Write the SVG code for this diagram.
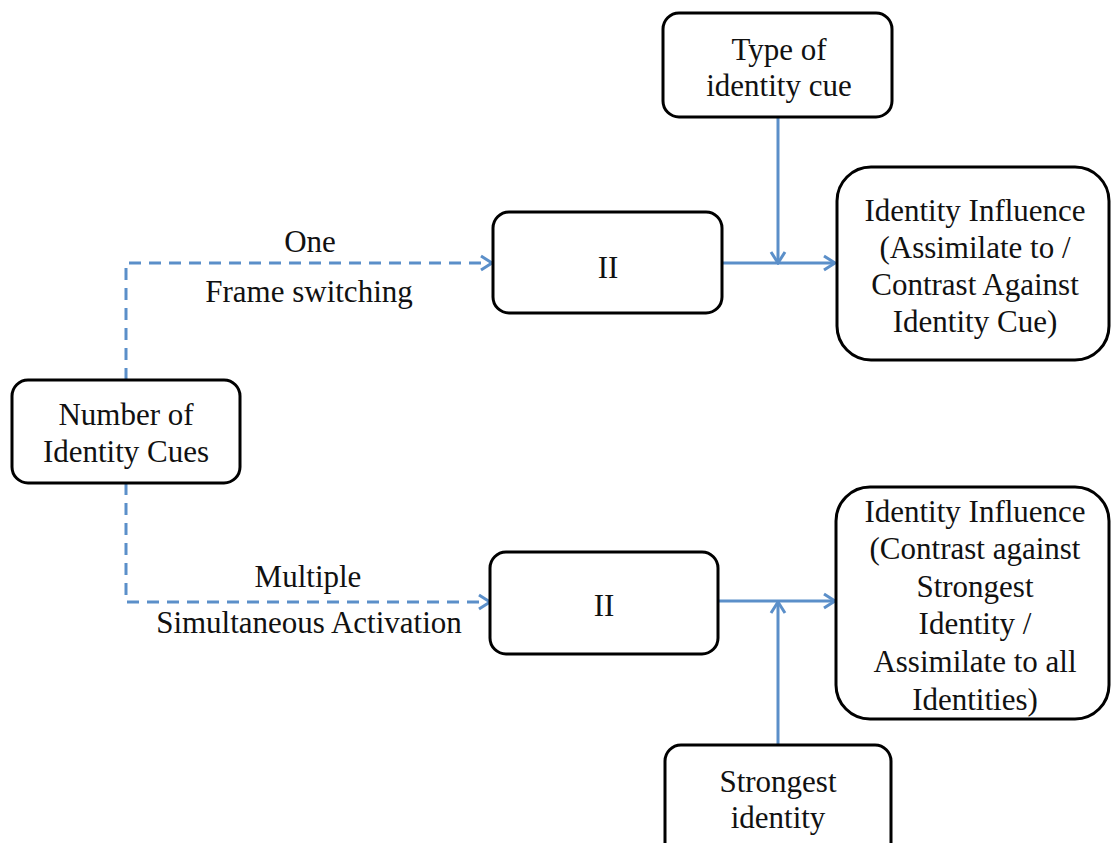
<svg xmlns="http://www.w3.org/2000/svg" width="1111" height="843" viewBox="0 0 1111 843">
  <style>
    .box { fill: #ffffff; stroke: #000000; stroke-width: 3; }
    .lbl { font-size: 31px; fill: #111111; text-anchor: middle; }
    .solid { fill: none; stroke: #5b8fc9; stroke-width: 3; }
    .dash { fill: none; stroke: #5b8fc9; stroke-width: 3; stroke-dasharray: 12 8; }
  </style>
  <defs>
    <marker id="arrow" viewBox="0 0 16 18" refX="14" refY="9" markerWidth="16" markerHeight="18" markerUnits="userSpaceOnUse" orient="auto">
      <path d="M3,2 L14,9 L3,16" fill="none" stroke="#5b8fc9" stroke-width="3" stroke-linejoin="miter"/>
    </marker>
  </defs>
  <rect width="1111" height="843" fill="#ffffff"/>

  <g font-family="'Liberation Serif', 'Times New Roman', Times, serif">
  <g id="connectors">
    <path class="dash" d="M126,380 V263 H492" marker-end="url(#arrow)"/>
    <path class="dash" d="M126,483 V602 H490" marker-end="url(#arrow)"/>
    <path class="solid" d="M722,263 H835" marker-end="url(#arrow)"/>
    <path class="solid" d="M778,117 V263" marker-end="url(#arrow)"/>
    <path class="solid" d="M718,601 H835" marker-end="url(#arrow)"/>
    <path class="solid" d="M778,745 V602" marker-end="url(#arrow)"/>
    <text class="lbl" x="310" y="252">One</text>
    <text class="lbl" x="309" y="302">Frame switching</text>
    <text class="lbl" x="308" y="587">Multiple</text>
    <text class="lbl" x="309" y="633">Simultaneous Activation</text>
  </g>

  <g id="number-of-identity-cues">
    <rect class="box" x="12" y="380" width="228" height="103" rx="16"/>
    <text class="lbl" x="126" y="425">Number of</text>
    <text class="lbl" x="126" y="462">Identity Cues</text>
  </g>

  <g id="ii-one">
    <rect class="box" x="493" y="212" width="229" height="101" rx="16"/>
    <text class="lbl" x="608" y="278">II</text>
  </g>

  <g id="ii-multiple">
    <rect class="box" x="490" y="552" width="228" height="102" rx="16"/>
    <text class="lbl" x="604" y="616">II</text>
  </g>

  <g id="type-of-identity-cue">
    <rect class="box" x="663" y="13" width="229" height="104" rx="16"/>
    <text class="lbl" x="779" y="60">Type of</text>
    <text class="lbl" x="779" y="96">identity cue</text>
  </g>

  <g id="influence-one">
    <rect class="box" x="837" y="167" width="272" height="193" rx="34"/>
    <text class="lbl" x="975" y="221">Identity Influence</text>
    <text class="lbl" x="975" y="258">(Assimilate to /</text>
    <text class="lbl" x="975" y="295">Contrast Against</text>
    <text class="lbl" x="975" y="332">Identity Cue)</text>
  </g>

  <g id="influence-multiple">
    <rect class="box" x="836" y="487" width="273" height="232" rx="34"/>
    <text class="lbl" x="975" y="522">Identity Influence</text>
    <text class="lbl" x="975" y="559">(Contrast against</text>
    <text class="lbl" x="975" y="597">Strongest</text>
    <text class="lbl" x="975" y="634">Identity /</text>
    <text class="lbl" x="975" y="672">Assimilate to all</text>
    <text class="lbl" x="975" y="710">Identities)</text>
  </g>

  <g id="strongest-identity">
    <rect class="box" x="665" y="745" width="226" height="120" rx="16"/>
    <text class="lbl" x="778" y="792">Strongest</text>
    <text class="lbl" x="778" y="828">identity</text>
  </g>
  </g>
</svg>
